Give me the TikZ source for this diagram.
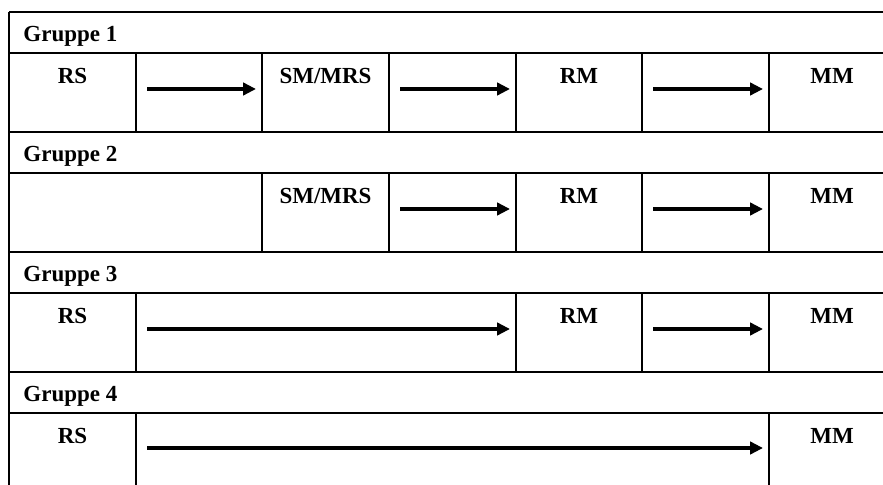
\documentclass[tikz,border=0pt]{standalone}
\usepackage{fontspec}
\setmainfont{Liberation Serif}
\usetikzlibrary{arrows.meta}

\begin{document}
\begin{tikzpicture}[x=0.5pt, y=-0.5pt,
    rule/.style={line width=0.65pt},
    grouphead/.style={anchor=base west, inner sep=0pt, font=\bfseries\fontsize{11.5}{13}\selectfont},
    stage/.style={anchor=base, inner sep=0pt, font=\bfseries\fontsize{11.5}{13}\selectfont},
    arr/.style={-{Triangle[length=6.5pt, width=6.2pt]}, line width=1.9pt}
]
\useasboundingbox (0,0) rectangle (883,485);
\clip (0,0) rectangle (883,485);

% table rules
\draw[rule] (9,12) -- (883,12)  (9,53) -- (883,53)
            (9,132) -- (883,132) (9,173) -- (883,173)
            (9,252) -- (883,252) (9,293) -- (883,293)
            (9,372) -- (883,372) (9,413) -- (883,413);
\draw[rule] (9,12) -- (9,485);
\draw[rule] (136,53) -- (136,132) (262,53) -- (262,132) (389,53) -- (389,132)
            (516,53) -- (516,132) (642,53) -- (642,132) (769,53) -- (769,132);
\draw[rule] (262,173) -- (262,252) (389,173) -- (389,252)
            (516,173) -- (516,252) (642,173) -- (642,252) (769,173) -- (769,252);
\draw[rule] (136,293) -- (136,372) (516,293) -- (516,372)
            (642,293) -- (642,372) (769,293) -- (769,372);
\draw[rule] (136,413) -- (136,485) (769,413) -- (769,485);

% group headings
\node[grouphead] (g1) at (23,42) {Gruppe 1};
\node[grouphead] (g2) at (23,162) {Gruppe 2};
\node[grouphead] (g3) at (23,282) {Gruppe 3};
\node[grouphead] (g4) at (23,402) {Gruppe 4};

% Gruppe 1
\node[stage] (rs1) at (72.5,84) {RS};
\node[stage] (smr1) at (325.5,84) {SM/MRS};
\node[stage] (rm1) at (579,84) {RM};
\node[stage] (mm1) at (832,84) {MM};
\coordinate (a1s) at (147,89);  \coordinate (a1e) at (256,89);
\coordinate (b1s) at (400,89);  \coordinate (b1e) at (510,89);
\coordinate (c1s) at (653,89);  \coordinate (c1e) at (763,89);
\draw[arr] (a1s) -- (a1e);
\draw[arr] (b1s) -- (b1e);
\draw[arr] (c1s) -- (c1e);

% Gruppe 2
\node[stage] (smr2) at (325.5,204) {SM/MRS};
\node[stage] (rm2) at (579,204) {RM};
\node[stage] (mm2) at (832,204) {MM};
\coordinate (b2s) at (400,209);  \coordinate (b2e) at (510,209);
\coordinate (c2s) at (653,209);  \coordinate (c2e) at (763,209);
\draw[arr] (b2s) -- (b2e);
\draw[arr] (c2s) -- (c2e);

% Gruppe 3
\node[stage] (rs3) at (72.5,324) {RS};
\node[stage] (rm3) at (579,324) {RM};
\node[stage] (mm3) at (832,324) {MM};
\coordinate (a3s) at (147,329);  \coordinate (a3e) at (510,329);
\coordinate (c3s) at (653,329);  \coordinate (c3e) at (763,329);
\draw[arr] (a3s) -- (a3e);
\draw[arr] (c3s) -- (c3e);

% Gruppe 4
\node[stage] (rs4) at (72.5,444) {RS};
\node[stage] (mm4) at (832,444) {MM};
\coordinate (a4s) at (147,448);  \coordinate (a4e) at (763,448);
\draw[arr] (a4s) -- (a4e);
\end{tikzpicture}
\end{document}
